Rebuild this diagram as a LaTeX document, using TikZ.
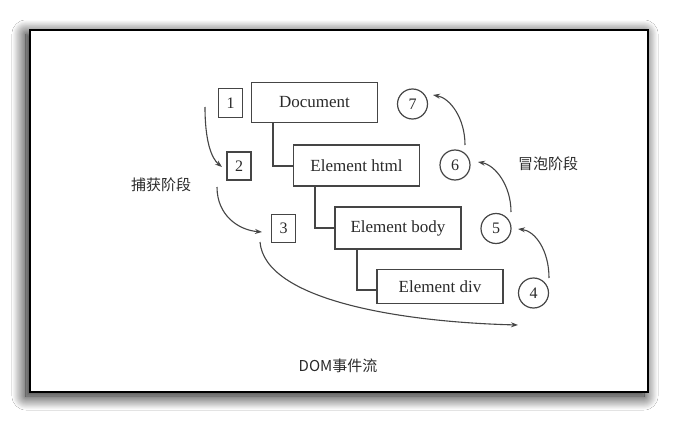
\documentclass[tikz,border=0pt]{standalone}
\usepackage{fontspec}
\setmainfont{Liberation Serif}
\newfontfamily\cjk{Noto Sans CJK SC}
\usetikzlibrary{arrows.meta,shadows.blur}
\definecolor{linec}{HTML}{454545}
\definecolor{textc}{HTML}{2A2A2A}
\begin{document}
\begin{tikzpicture}[x=1pt,y=-1pt,
  elbox/.style={draw=linec, line width=1.2pt, minimum width=126pt, text=textc,
    font=\fontsize{17}{17}\selectfont, inner sep=0pt},
  numbox/.style={draw=linec, line width=1.2pt, minimum width=24pt, minimum height=28pt,
    text=textc, font=\fontsize{16}{16}\selectfont, inner sep=0pt},
  numcirc/.style={circle, draw=linec, line width=1.2pt, minimum size=30pt,
    text=textc, font=\fontsize{16}{16}\selectfont, inner sep=0pt},
  tree/.style={draw=linec, line width=1.2pt},
  flow/.style={draw=linec, line width=1.1pt, -{Stealth[length=7pt,width=5pt]}},
  cjklabel/.style={text=textc, font=\cjk\fontsize{15}{15}\selectfont, inner sep=0pt}]
\useasboundingbox (0,0) rectangle (678,423);
\fill[white] (0,0) rectangle (678,423);
% frame with soft shadow
\path[fill=white, blur shadow={shadow xshift=-4pt, shadow yshift=-4pt,
  shadow blur radius=14pt, shadow opacity=100, shadow blur steps=30}]
  (30,30) rectangle (648,392);
\draw[black, line width=1.4pt] (30,30) rectangle (648,392);

% element boxes
\node[elbox, minimum height=40pt] (doc)  at (314.5,102.5) {Document};
\node[elbox, minimum height=41pt] (html) at (356.5,165.5) {Element html};
\node[elbox, minimum height=42pt] (body) at (398,228)     {Element body};
\node[elbox, minimum height=34pt] (div)  at (440,286.5)   {Element div};

% tree connectors
\coordinate (t1) at (273,166);
\coordinate (t2) at (315,228);
\coordinate (t3) at (357,290);
\draw[tree] (doc.south -| t1) |- (html.west |- t1);
\draw[tree] (html.south -| t2) |- (body.west |- t2);
\draw[tree] (body.south -| t3) |- (div.west |- t3);

% capture numbers
\node[numbox, minimum height=29pt] (n1) at (230.5,103) {1};
\node[numbox] (n2) at (239,166) {2};
\node[numbox] (n3) at (283.5,228.5) {3};

% bubble numbers
\node[numcirc] (c7) at (412.5,104) {7};
\node[numcirc] (c6) at (455,165) {6};
\node[numcirc] (c5) at (496,228.5) {5};
\node[numcirc] (c4) at (533.5,293) {4};

% arrow end points
\coordinate (a1s) at (205,107);
\coordinate (a1e) at (222,167);
\coordinate (a2s) at (217,187);
\coordinate (a2e) at (262,232);
\coordinate (a3s) at (260,242);
\coordinate (a3e) at (518,325);
\coordinate (a4s) at (549,278);
\coordinate (a4e) at (518,229);
\coordinate (a5s) at (511,212);
\coordinate (a5e) at (478,162);
\coordinate (a6s) at (465,145);
\coordinate (a6e) at (433,95);

\draw[flow] (a1s) .. controls (205,140) and (211,158) .. (a1e);
\draw[flow] (a2s) .. controls (217,215) and (238,230) .. (a2e);
\draw[flow] (a3s) .. controls (265,300) and (400,322) .. (a3e);
\draw[flow] (a4s) .. controls (549,250) and (535,231) .. (a4e);
\draw[flow] (a5s) .. controls (511,185) and (495,165) .. (a5e);
\draw[flow] (a6s) .. controls (465,118) and (450,98) .. (a6e);

% labels
\node[cjklabel] (cap) at (161,185) {捕获阶段};
\node[cjklabel] (bub) at (548,164) {冒泡阶段};
\node[cjklabel] (title) at (338,366) {DOM事件流};
\end{tikzpicture}
\end{document}
